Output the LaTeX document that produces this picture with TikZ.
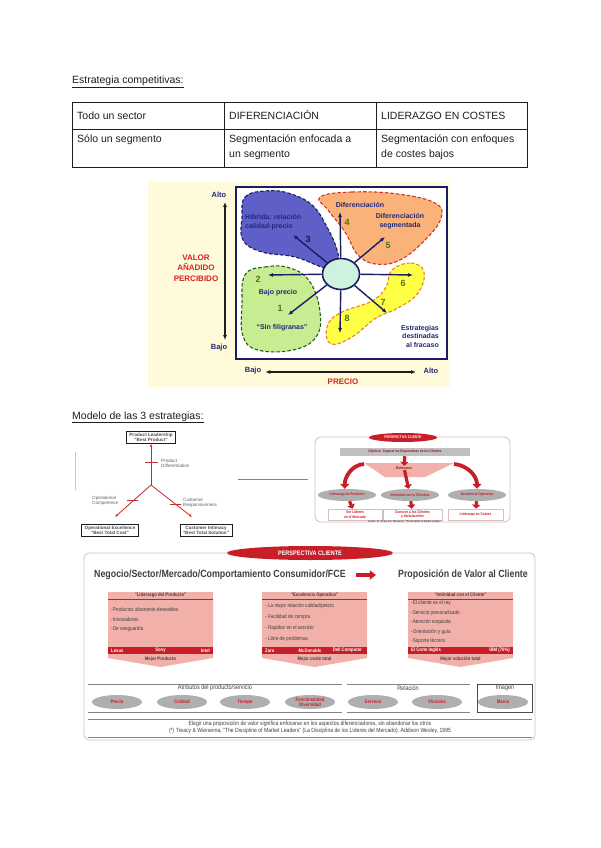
\documentclass[tikz,border=0pt]{standalone}
\usepackage{fontspec}
\setmainfont{Liberation Sans}
\newfontfamily\narrowfont[FakeStretch=0.85]{Liberation Sans}
\usepackage{tikz}
\usetikzlibrary{arrows.meta, positioning, shapes.geometric, calc}
\definecolor{ink}{RGB}{30,30,30}
\definecolor{navyLine}{RGB}{25,30,100}
\definecolor{navyText}{RGB}{35,40,120}
\definecolor{clockBg}{RGB}{255,251,218}
\definecolor{hybridFill}{RGB}{95,95,200}
\definecolor{diffFill}{RGB}{250,178,120}
\definecolor{lowFill}{RGB}{200,236,145}
\definecolor{failFill}{RGB}{255,255,70}
\definecolor{hubFill}{RGB}{205,242,222}
\definecolor{numGreen}{RGB}{70,120,20}
\definecolor{lowLine}{RGB}{40,90,30}
\definecolor{diffLine}{RGB}{215,50,40}
\definecolor{failLine}{RGB}{235,130,30}
\definecolor{labelRed}{RGB}{215,35,35}
\definecolor{modelRed}{RGB}{195,45,45}
\definecolor{bannerRed}{RGB}{200,30,40}
\definecolor{pinkFill}{RGB}{241,176,170}
\definecolor{ovalGray}{RGB}{175,175,175}
\definecolor{barGray}{RGB}{192,192,192}
\definecolor{frameGray}{RGB}{215,190,190}
\tikzset{
  heading/.style={anchor=base west, inner sep=0pt, text=ink, font=\fontsize{10.5}{12}\selectfont},
  cell/.style={anchor=base west, inner sep=0pt, text=ink, align=left, font=\fontsize{10.5}{15}\selectfont},
  tableRule/.style={draw=ink, line width=0.9pt},
  clockFrame/.style={draw=navyLine, line width=2.4pt, fill=white},
  blob/.style={line width=1.1pt, dash pattern=on 3.5pt off 2pt},
  hub/.style={ellipse, draw=navyLine, line width=1.6pt, fill=hubFill, minimum width=37pt, minimum height=31pt, inner sep=0pt},
  spoke/.style={-{Latex[length=5pt,width=4pt]}, line width=1.4pt, draw=navyLine},
  clockText/.style={inner sep=0pt, align=center, text=navyText, font=\fontsize{7}{8.5}\selectfont\bfseries},
  clockNum/.style={inner sep=0pt, text=numGreen, font=\fontsize{9}{9}\selectfont\bfseries},
  axisLabel/.style={inner sep=0pt, text=navyText, font=\fontsize{7.5}{8}\selectfont\bfseries},
  axisTitle/.style={inner sep=0pt, align=center, text=labelRed, font=\fontsize{8}{10.5}\selectfont\bfseries},
  axisArrow/.style={{Latex[length=5pt,width=4pt]}-{Latex[length=5pt,width=4pt]}, line width=1.1pt, draw=ink},
  modelBox/.style={draw=ink, line width=0.6pt, inner xsep=3pt, inner ysep=1.5pt, align=center, text=ink!80, font=\fontsize{4.6}{5.4}\selectfont\bfseries},
  modelNote/.style={inner sep=0pt, align=left, text=ink!70, font=\fontsize{4.6}{5.6}\selectfont},
  modelArrow/.style={-{Latex[length=3pt,width=2.5pt]}, line width=0.8pt, draw=modelRed},
  modelTick/.style={line width=0.6pt, draw=modelRed},
  banner/.style={ellipse, fill=bannerRed, text=white, inner sep=0pt},
  softFrame/.style={draw=frameGray, line width=0.8pt, rounded corners=6pt},
  goalBar/.style={fill=barGray, minimum width=130pt, minimum height=8pt, inner sep=0pt, text=bannerRed!70!black, font=\narrowfont\bfseries\fontsize{3.6}{4}\selectfont},
  oval/.style={ellipse, fill=ovalGray, minimum width=58pt, minimum height=12pt, inner sep=0pt, text=bannerRed, font=\narrowfont\bfseries\fontsize{3.8}{4}\selectfont},
  resultBox/.style={draw=frameGray, line width=0.5pt, minimum height=11pt, inner sep=0pt, align=center, text=bannerRed, font=\narrowfont\bfseries\fontsize{3.8}{4.4}\selectfont},
  fatArrow/.style={-{Triangle[length=4pt,width=8pt]}, line width=3.2pt, draw=bannerRed},
  curveArrow/.style={-{Triangle[length=5pt,width=9pt]}, line width=3.8pt, draw=bannerRed},
  bigHead/.style={inner sep=0pt, text=ink!85, font=\narrowfont\bfseries\fontsize{10.4}{12}\selectfont},
  boxTitle/.style={inner sep=0pt, text=ink!85, font=\narrowfont\bfseries\fontsize{5}{6}\selectfont},
  boxItem/.style={anchor=west, inner sep=0pt, text=ink!85, font=\narrowfont\fontsize{5.5}{6}\selectfont},
  barText/.style={inner sep=0pt, text=white, font=\narrowfont\bfseries\fontsize{5}{6}\selectfont},
  attrHead/.style={inner sep=0pt, text=ink!85, font=\narrowfont\fontsize{6.5}{7}\selectfont},
  attrOval/.style={ellipse, fill=ovalGray, minimum width=50pt, minimum height=14pt, inner sep=0pt, align=center, text=bannerRed, font=\narrowfont\bfseries\fontsize{5}{5.4}\selectfont},
  footNote/.style={inner sep=0pt, align=center, text=ink!85, font=\narrowfont\fontsize{6}{7}\selectfont},
  thinRule/.style={draw=ink!55, line width=0.6pt}
}
\begin{document}
\begin{tikzpicture}[x=1pt, y=-1pt]
  \fill[white] (0,0) rectangle (600,848);
  \useasboundingbox (0,0) rectangle (600,848);

  % competitive strategies table
  \node[heading] (stratTitle) at (72,84) {\underline{Estrategia competitivas:}};
  \draw[tableRule] (72,102) rectangle (527,167);
  \draw[tableRule] (72,129) -- (527,129) (224,102) -- (224,167) (376,102) -- (376,167);
  \node[cell] (cellSector) at (77,120) {Todo un sector};
  \node[cell] (cellDiff) at (229,120) {DIFERENCIACIÓN};
  \node[cell] (cellCost) at (381,120) {LIDERAZGO EN COSTES};
  \node[cell] (cellSegment) at (77,142.5) {Sólo un segmento};
  \node[cell] (cellFocus) at (229,157.5) {Segmentación enfocada a\\un segmento};
  \node[cell] (cellLowCost) at (381,157.5) {Segmentación con enfoques\\de costes bajos};

  % strategy clock
  \fill[clockBg] (148,182) rectangle (450,387);
  \draw[clockFrame] (236,187) rectangle (447,359);
  \draw[blob, draw=navyLine, fill=hybridFill] plot[smooth cycle, tension=0.7] coordinates {(242,217) (245,197) (265,191) (288,193) (312,205) (327,227) (337,250) (338,266) (325,268) (295,257) (262,252) (243,240)};
  \draw[blob, draw=diffLine, fill=diffFill] plot[smooth cycle, tension=0.7] coordinates {(320,197) (352,192) (398,194) (435,203) (441,218) (425,240) (400,260) (376,264) (358,255) (345,232) (328,210)};
  \draw[blob, draw=lowLine, fill=lowFill] plot[smooth cycle, tension=0.7] coordinates {(245,275) (265,267) (290,268) (310,282) (320,312) (316,337) (293,350) (258,350) (243,336) (242,305)};
  \draw[blob, draw=failLine, fill=failFill] plot[smooth cycle, tension=0.7] coordinates {(392,270) (411,263) (424,272) (418,293) (398,308) (376,318) (352,337) (331,344) (327,327) (340,313) (372,301) (386,287)};
  \node[hub] (clockHub) at (341,274) {};
  \coordinate (tip1) at (288,315);
  \coordinate (tip2) at (268,275);
  \coordinate (tip3) at (293,235);
  \coordinate (tip4) at (340,212);
  \coordinate (tip5) at (385,237);
  \coordinate (tip6) at (413,275);
  \coordinate (tip7) at (387,313);
  \coordinate (tip8) at (340,333);
  \foreach \t in {1,...,8}
    \draw[spoke] (clockHub) -- (tip\t);
  \node[clockNum] (num1) at (280,308) {1};
  \node[clockNum] (num2) at (258,279) {2};
  \node[clockNum, text=navyText!60!black] (num3) at (308,239) {3};
  \node[clockNum] (num4) at (347,222) {4};
  \node[clockNum] (num5) at (388,245) {5};
  \node[clockNum] (num6) at (403,283) {6};
  \node[clockNum] (num7) at (383,302) {7};
  \node[clockNum] (num8) at (347,318) {8};
  \node[clockText, anchor=west, align=left] (hybridText) at (245,222) {Hibrida: relación\\calidad-precio};
  \node[clockText] (diffText) at (360,205) {Diferenciación};
  \node[clockText] (segText) at (400,221) {Diferenciación\\segmentada};
  \node[clockText] (lowText) at (278,293) {Bajo precio};
  \node[clockText] (plainText) at (282,328) {“Sin filigranas”};
  \node[clockText, anchor=east, align=right] (failText) at (439,336) {Estrategias\\destinadas\\al fracaso};
  \node[axisLabel] (highValue) at (219,195) {Alto};
  \node[axisLabel] (lowValue) at (219,348) {Bajo};
  \node[axisLabel] (lowPrice) at (253,371) {Bajo};
  \node[axisLabel] (highPrice) at (431,371) {Alto};
  \node[axisTitle] (valueTitle) at (196,268) {VALOR\\AÑADIDO\\PERCIBIDO};
  \node[axisTitle] (priceTitle) at (343,382) {PRECIO};
  \draw[axisArrow] (highValue.south -| 225,0) ++(0,4) -- (225,340);
  \draw[axisArrow] (lowPrice.east) ++(4,1) -- (416,372);

  % three strategies model
  \node[heading] (modelTitle) at (72,419) {\underline{Modelo de las 3 estrategias:}};
  \node[modelBox] (leaderBox) at (151,437.5) {Product Leadership\\“Best Product”};
  \node[modelBox] (excelBox) at (110,530.5) {Operational Excellence\\“Best Total Cost”};
  \node[modelBox] (intimBox) at (206,530.5) {Customer Intimacy\\“Best Total Solution”};
  \coordinate (modelHub) at (151,485);
  \coordinate (excelTip) at (115,517);
  \coordinate (intimTip) at (192,517);
  \draw[modelArrow] (modelHub) -- (leaderBox.south);
  \draw[modelArrow] (modelHub) -- (excelTip);
  \draw[modelArrow] (modelHub) -- (intimTip);
  \draw[modelTick] (145,462) -- (158,462) (127,500) -- (138,500) (170,504) -- (181,504);
  \node[modelNote, anchor=west] (diffNote) at (161,463.5) {Product\\Differentiation};
  \node[modelNote, anchor=west] (compNote) at (92,501) {Operational\\Competence};
  \node[modelNote, anchor=west] (respNote) at (183,503) {Customer\\Responsiveness};
  \draw[modelRed!35, line width=0.8pt] (75,452) -- (75,490);
  \draw[ink!55, line width=0.8pt] (238,479) -- (308,479);

  % customer perspective (small)
  \draw[softFrame] (315,437) rectangle (510,522);
  \node[banner, minimum width=68pt, minimum height=9pt, font=\narrowfont\bfseries\fontsize{3.8}{4}\selectfont] (clientBanner) at (403,437.5) {PERSPECTIVA CLIENTE};
  \node[goalBar] (goalBar) at (405,452) {Objetivo: Superar las Expectativas de los Clientes};
  \fill[pinkFill] (364,463) -- (454,463) -- (425,477) -- (385,477) -- cycle;
  \node[inner sep=0.5pt, text=bannerRed!70!black, font=\narrowfont\bfseries\fontsize{3.8}{4}\selectfont] (focusText) at (404,468) {Enfocarse};
  \coordinate (focusWest) at (364,464);
  \coordinate (focusEast) at (454,464);
  \node[oval] (prodOval) at (347,495) {Liderazgo de Producto};
  \node[oval] (intimOval) at (410,495) {Intimidad con la Clientela};
  \node[oval] (opOval) at (477,495) {Excelencia Operativa};
  \node[resultBox, minimum width=54pt] (leadResult) at (355,514.5) {Ser Líderes\\en el Mercado};
  \node[resultBox, minimum width=59pt] (knowResult) at (412.5,514.5) {Conocer a los Clientes\\y Satisfacerlos};
  \node[resultBox, minimum width=55pt] (costResult) at (475.5,514.5) {Liderazgo en Costes};
  \draw[fatArrow] (goalBar) -- (focusText);
  \draw[fatArrow] (focusText) -- (intimOval);
  \draw[curveArrow] (focusWest) to[out=185, in=90] (prodOval.110);
  \draw[curveArrow] (focusEast) to[out=-5, in=90] (opOval.north);
  \draw[fatArrow] (prodOval) -- (leadResult);
  \draw[fatArrow] (intimOval) -- (knowResult);
  \draw[fatArrow] (opOval) -- (costResult);
  \node[inner sep=0pt, text=ink, font=\narrowfont\fontsize{2.8}{3}\selectfont] (srcNote) at (405,521.5) {Fuente: M. Treacy \& F. Wiersema, “The Discipline of Market Leaders”.};

  % customer perspective (large)
  \draw[softFrame, rounded corners=5pt] (84,553) rectangle (535,740);
  \node[banner, minimum width=166pt, minimum height=14pt, font=\narrowfont\bfseries\fontsize{6.5}{7}\selectfont] (bigBanner) at (310,553) {PERSPECTIVA CLIENTE};
  \node[bigHead, anchor=west] (marketHead) at (94,575) {Negocio/Sector/Mercado/Comportamiento Consumidor/FCE};
  \node[bigHead, anchor=east] (valueHead) at (528,575) {Proposición de Valor al Cliente};
  \draw[-{Triangle[length=6pt,width=9pt]}, line width=4pt, draw=bannerRed, shorten <=10pt, shorten >=22pt] (marketHead.east) -- (valueHead.west);

  \fill[pinkFill] (108,592) -- (213,592) -- (213,658) -- (160.5,667) -- (108,658) -- cycle;
  \draw[bannerRed, line width=0.8pt] (108,599) -- (213,599);
  \fill[bannerRed] (108,647) rectangle (213,654);
  \node[boxTitle] (prodTitle) at (160.5,595) {“Liderazgo del Producto”};
  \node[boxItem] (prodItemA) at (111,610) {-Productos altamente deseables};
  \node[boxItem] (prodItemB) at (111,620) {-Innovadores};
  \node[boxItem] (prodItemC) at (111,629) {-De vanguardia};
  \node[barText, anchor=west] (prodBarA) at (111,650.5) {Lexus};
  \node[barText] (prodBarB) at (160.5,650.5) {Sony};
  \node[barText, anchor=east] (prodBarC) at (210,650.5) {Intel};
  \node[boxTitle] (prodFoot) at (160.5,659) {Mejor Producto};

  \fill[pinkFill] (262,592) -- (367,592) -- (367,658) -- (314.5,667) -- (262,658) -- cycle;
  \draw[bannerRed, line width=0.8pt] (262,599) -- (367,599);
  \fill[bannerRed] (262,647) rectangle (367,654);
  \node[boxTitle] (opTitle) at (314.5,595) {“Excelencia Operativa”};
  \node[boxItem] (opItemA) at (265,606) {- La mejor relación calidad/precio};
  \node[boxItem] (opItemB) at (265,617) {- Facilidad de compra};
  \node[boxItem] (opItemC) at (265,628) {- Rapidez en el servicio};
  \node[boxItem] (opItemD) at (265,639) {- Libre de problemas};
  \node[barText, anchor=west] (opBarA) at (265,650.5) {Zara};
  \node[barText] (opBarB) at (310,650.5) {McDonalds};
  \node[barText, anchor=east] (opBarC) at (362,650.5) {Dell Computer};
  \node[boxTitle] (opFoot) at (314.5,659) {Mejor coste total};

  \fill[pinkFill] (408,592) -- (513,592) -- (513,658) -- (460.5,667) -- (408,658) -- cycle;
  \draw[bannerRed, line width=0.8pt] (408,599) -- (513,599);
  \fill[bannerRed] (408,647) rectangle (513,654);
  \node[boxTitle] (intimTitle) at (460.5,595) {“Intimidad con el Cliente”};
  \node[boxItem] (intimItemA) at (411,603) {-El cliente es el rey};
  \node[boxItem] (intimItemB) at (411,613) {-Servicio personalizado};
  \node[boxItem] (intimItemC) at (411,622) {-Atención exquisita};
  \node[boxItem] (intimItemD) at (411,632) {-Orientación y guía};
  \node[boxItem] (intimItemE) at (411,641) {-Soporte técnico};
  \node[barText, anchor=west] (intimBarA) at (411,650.5) {El Corte Inglés};
  \node[barText, anchor=east] (intimBarB) at (510,650.5) {IBM (70\%)};
  \node[boxTitle] (intimFoot) at (460.5,659) {Mejor solución total};

  % attributes row
  \draw[thinRule] (88,684) -- (342,684) (88,712) -- (342,712);
  \draw[thinRule] (347,684) -- (470,684) (347,712) -- (470,712);
  \draw[ink!80, line width=0.8pt] (477,684) rectangle (532,712);
  \node[attrHead] (attrTitle) at (215,688) {Atributos del producto/servicio};
  \node[attrHead] (relTitle) at (408,688) {Relación};
  \node[attrHead] (imgTitle) at (505,688) {Imagen};
  \foreach \x/\t/\n in {117/Precio/ovPrice, 182/Calidad/ovQuality, 245/Tiempo/ovTime, 310/{Funcionalidad\\Diversidad}/ovFunc, 373/Servicio/ovService, 437/Vínculos/ovBond, 503/Marca/ovBrand}
    \node[attrOval] (\n) at (\x,702) {\t};
  \draw[thinRule] (88,719) -- (532,719) (88,737) -- (532,737);
  \node[footNote] (closingNote) at (310,727.5) {Elegir una proposición de valor significa enfocarse en los aspectos diferenciadores, sin abandonar los otros\\(*) Treacy \& Wiersema, “The Discipline of Market Leaders” (La Disciplina de los Líderes del Mercado), Addison Wesley, 1995};
\end{tikzpicture}
\end{document}
